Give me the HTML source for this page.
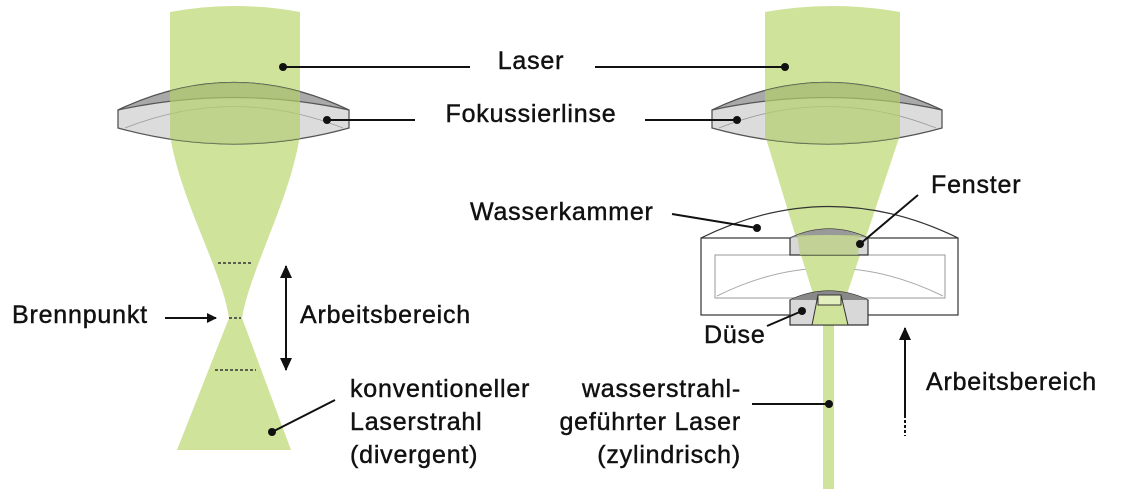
<!DOCTYPE html>
<html><head><meta charset="utf-8"><style>
html,body{margin:0;padding:0;background:#fff;}
svg text{font-family:"Liberation Sans",sans-serif;font-size:25px;letter-spacing:0.8px;fill:#111;stroke:#111;stroke-width:0.45px;}
</style></head><body>
<svg width="1126" height="489" viewBox="0 0 1126 489" xmlns="http://www.w3.org/2000/svg">
<defs>
<marker id="ah" markerWidth="10" markerHeight="10" refX="9" refY="5" orient="auto" markerUnits="userSpaceOnUse">
<path d="M0,0 L10,5 L0,10 Z" fill="#111"/></marker>
<marker id="ahs" markerWidth="14" markerHeight="14" refX="12" refY="7" orient="auto-start-reverse" markerUnits="userSpaceOnUse">
<path d="M0,1 L13,7 L0,13 Z" fill="#111"/></marker>
<clipPath id="cl"><path d="M118,110 Q234,55 349,110 L349,128 Q234,160 118,128 Z"/></clipPath>
<clipPath id="cr"><path d="M712,110 Q827,55 942,110 L942,128 Q827,160 712,128 Z"/></clipPath>
</defs>
<path d="M170,12 Q235,0 300,12 L300,135 C290,200 250,270 242,318 L291,450 L177,450 L229,318 C222,270 180,200 170,135 Z" fill="#cfe39a"/>
<path d="M118,110 Q234,55 349,110 L349,128 Q234,160 118,128 Z" fill="#dcdcdc" stroke="#555" stroke-width="1.3"/>
<path d="M118,110 Q234,55 349,110 Q234,85 118,110 Z" fill="#a9a9a9" stroke="#555" stroke-width="1.2"/>
<path d="M125,128 Q234,85 343,128" fill="none" stroke="#999" stroke-width="0.8"/>
<rect x="170" y="70" width="130" height="80" fill="#b4cf6a" opacity="0.7" clip-path="url(#cl)"/>
<g stroke="#333" stroke-width="1.5" stroke-dasharray="3,2">
<line x1="218" y1="263" x2="251" y2="263"/><line x1="229" y1="318" x2="241" y2="318"/><line x1="215" y1="370" x2="256" y2="370"/></g>
<path d="M765,12 Q832,0 900,12 L900,135 L845,300 L834,300 L834,489 L823,489 L823,300 L815,300 L765,135 Z" fill="#cfe39a"/>
<path d="M712,110 Q827,55 942,110 L942,128 Q827,160 712,128 Z" fill="#dcdcdc" stroke="#555" stroke-width="1.3"/>
<path d="M712,110 Q827,55 942,110 Q827,85 712,110 Z" fill="#a9a9a9" stroke="#555" stroke-width="1.2"/>
<path d="M719,128 Q827,85 936,128" fill="none" stroke="#999" stroke-width="0.8"/>
<rect x="765" y="70" width="135" height="80" fill="#b4cf6a" opacity="0.7" clip-path="url(#cr)"/>
<path d="M701,238 Q829,175 958,238" fill="none" stroke="#333" stroke-width="1.2"/>
<rect x="701" y="238" width="257" height="77" fill="none" stroke="#333" stroke-width="1.2"/>
<rect x="715" y="255" width="230" height="43" fill="none" stroke="#999" stroke-width="1"/>
<path d="M717,296 Q829,240 943,296" fill="none" stroke="#aaa" stroke-width="1"/>
<path d="M796,239 L863,239 L845,300 L815,300 Z" fill="#cfe39a"/>
<path d="M790,238 Q829,220 868,238 L868,255 L790,255 Z" fill="#d8d8d8" stroke="#333" stroke-width="1.2"/>
<path d="M790,238 Q829,220 868,238 Q829,232 790,238Z" fill="#999"/>
<path d="M797,235 L861,235 L858,255 L800,255 Z" fill="#b9d07a" opacity="0.7"/>
<path d="M790,300 Q829,282 868,300 L868,325 L790,325 Z" fill="#d8d8d8" stroke="#333" stroke-width="1.2"/>
<path d="M790,300 Q829,282 868,300 L790,300Z" fill="#888"/>
<path d="M818,295 L841,295 L848,325 L812,325 Z" fill="#cfe39a" stroke="#333" stroke-width="1"/>
<rect x="818" y="295" width="23" height="10" fill="#e4efbf" stroke="#333" stroke-width="1"/>
<g stroke="#111" stroke-width="2" fill="none">
<line x1="283" y1="67" x2="470" y2="67"/><line x1="595" y1="67" x2="785" y2="67"/>
<line x1="327" y1="120" x2="415" y2="120"/><line x1="645" y1="120" x2="737" y2="120"/>
<line x1="672" y1="214" x2="757" y2="228"/><line x1="918" y1="195" x2="860" y2="244"/>
<line x1="767" y1="326" x2="802" y2="311"/>
<line x1="335" y1="400" x2="272" y2="432"/><line x1="752" y1="404" x2="829" y2="404"/>
<line x1="165" y1="318" x2="216" y2="318" marker-end="url(#ah)"/>
<line x1="286" y1="266" x2="286" y2="370" marker-start="url(#ahs)" marker-end="url(#ahs)"/>
<line x1="905" y1="415" x2="905" y2="328" marker-end="url(#ahs)"/>
<line x1="905" y1="415" x2="905" y2="436" stroke-dasharray="3,2"/>
</g>
<g fill="#111"><circle cx="283" cy="67" r="4"/><circle cx="785" cy="67" r="4"/><circle cx="327" cy="120" r="4"/><circle cx="737" cy="120" r="4"/><circle cx="757" cy="228" r="4"/><circle cx="860" cy="244" r="4"/><circle cx="802" cy="311" r="4"/><circle cx="272" cy="432" r="4"/><circle cx="829" cy="404" r="4"/></g>
<text x="531" y="69" text-anchor="middle">Laser</text>
<text x="531" y="122" text-anchor="middle">Fokussierlinse</text>
<text x="931" y="193">Fenster</text>
<text x="470" y="220">Wasserkammer</text>
<text x="12" y="323">Brennpunkt</text>
<text x="300" y="323">Arbeitsbereich</text>
<text x="704" y="343">Düse</text>
<text x="350" y="397">konventioneller</text>
<text x="350" y="430">Laserstrahl</text>
<text x="350" y="463">(divergent)</text>
<text x="741" y="397" text-anchor="end">wasserstrahl-</text>
<text x="741" y="430" text-anchor="end">geführter Laser</text>
<text x="741" y="463" text-anchor="end">(zylindrisch)</text>
<text x="926" y="390">Arbeitsbereich</text>
</svg>
</body></html>
